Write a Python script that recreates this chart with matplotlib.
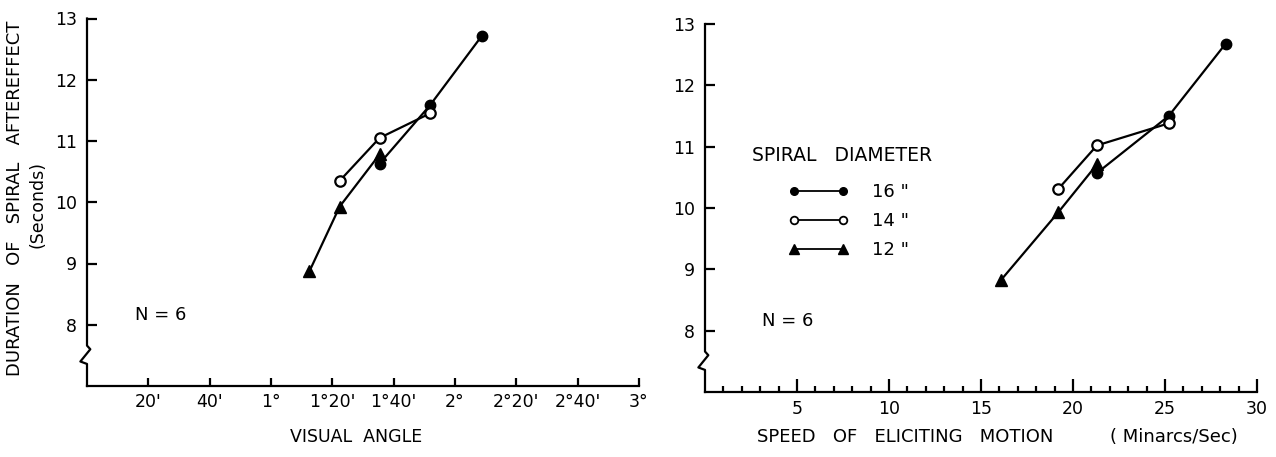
import matplotlib
matplotlib.use("Agg")
import matplotlib.pyplot as plt
from matplotlib.lines import Line2D

# left panel: visual angle (minutes of arc) vs duration (s)
angle_16 = [95.4, 111.8, 128.8]
dur_angle_16 = [10.63, 11.58, 12.72]
angle_14 = [82.4, 95.4, 111.8]
dur_angle_14 = [10.35, 11.05, 11.45]
angle_12 = [72.5, 82.4, 95.4]
dur_angle_12 = [8.87, 9.93, 10.78]

# right panel: speed (minarcs/sec) vs duration (s)
speed_16 = [21.3, 25.2, 28.3]
dur_speed_16 = [10.57, 11.50, 12.68]
speed_14 = [19.2, 21.3, 25.2]
dur_speed_14 = [10.31, 11.02, 11.38]
speed_12 = [16.1, 19.2, 21.3]
dur_speed_12 = [8.83, 9.93, 10.71]

angle_ticks = [20, 40, 60, 80, 100, 120, 140, 160, 180]
angle_labels = ["20'", "40'", "1°", "1°20'", "1°40'", "2°", "2°20'", "2°40'", "3°"]
speed_ticks = [5, 10, 15, 20, 25, 30]
dur_ticks = [8, 9, 10, 11, 12, 13]
legend_labels = ['16 "', '14 "', '12 "']

plt.rcParams['font.family'] = ['DejaVu Sans']
W, H = 1276, 457
fig = plt.figure(figsize=(W / 100, H / 100), dpi=100)

ax1 = fig.add_axes([87 / W, 1 - 386 / H, (639 - 87) / W, (386 - 18.5) / H])
ax2 = fig.add_axes([705 / W, 1 - 392 / H, (1257 - 705) / W, (392 - 24) / H])

lw = 1.6


def draw_series(ax, xs, ys):
    ax.plot(xs[0], ys[0], color="black", lw=lw, marker="o", ms=7.5,
            mfc="black", mec="black", zorder=3)
    ax.plot(xs[1], ys[1], color="black", lw=lw, marker="o", ms=7.5,
            mfc="white", mec="black", mew=1.6, zorder=4)
    ax.plot(xs[2], ys[2], color="black", lw=lw, marker="^", ms=8,
            mfc="black", mec="black", zorder=3)


draw_series(ax1, [angle_16, angle_14, angle_12],
            [dur_angle_16, dur_angle_14, dur_angle_12])
draw_series(ax2, [speed_16, speed_14, speed_12],
            [dur_speed_16, dur_speed_14, dur_speed_12])

for ax in (ax1, ax2):
    ax.set_ylim(7, 13)
    ax.set_yticks(dur_ticks)
    ax.set_yticklabels([str(t) for t in dur_ticks], fontsize=12.5)
    ax.spines["top"].set_visible(False)
    ax.spines["right"].set_visible(False)
    ax.spines["left"].set_visible(False)
    ax.spines["bottom"].set_linewidth(lw)
    ax.tick_params(axis="y", direction="in", length=7, width=lw, pad=7)
    # y axis with break mark near the bottom
    tr = ax.get_yaxis_transform()
    ax.plot([0, 0, 0.006, -0.012, 0, 0], [13, 7.66, 7.6, 7.4, 7.36, 7.0],
            color="black", lw=lw, transform=tr, clip_on=False, zorder=5)

ax1.set_xlim(0, 180)
ax1.set_xticks(angle_ticks)
ax1.set_xticklabels(angle_labels, fontsize=12.5)
ax1.tick_params(axis="x", direction="in", length=6, width=lw, pad=5)

ax2.set_xlim(0, 30)
ax2.set_xticks(speed_ticks)
ax2.set_xticklabels([str(t) for t in speed_ticks], fontsize=12.5)
ax2.set_xticks(range(1, 31), minor=True)
ax2.tick_params(axis="x", which="major", direction="in", length=9.5, width=lw, pad=6)
ax2.tick_params(axis="x", which="minor", direction="in", length=4.5, width=lw)

ax1.text(15.5, 8.16, "N = 6", fontsize=13, va="center", ha="left")
ax2.text(3.1, 8.15, "N = 6", fontsize=13, va="center", ha="left")

# axis labels
fig.text(15 / W, 1 - 198 / H, "DURATION   OF   SPIRAL   AFTEREFFECT", rotation=90,
         fontsize=13, ha="center", va="center")
fig.text(38 / W, 1 - 205 / H, "(Seconds)", rotation=90,
         fontsize=12.5, ha="center", va="center")
fig.text(356 / W, 1 - 437 / H, "VISUAL  ANGLE", fontsize=12.5, ha="center", va="center")
fig.text(757 / W, 1 - 437 / H, "SPEED   OF   ELICITING   MOTION", fontsize=13,
         ha="left", va="center")
fig.text(1110 / W, 1 - 437 / H, "( Minarcs/Sec)", fontsize=13, ha="left", va="center")

# legend
ax2.text(0.085, 0.644, "SPIRAL   DIAMETER", transform=ax2.transAxes,
         fontsize=13.5, ha="left", va="center")
handles = [
    Line2D([], [], color="black", lw=1.3, marker="o", ms=5.5, mfc="black", mec="black"),
    Line2D([], [], color="black", lw=1.3, marker="o", ms=5.5, mfc="white", mec="black", mew=1.3),
    Line2D([], [], color="black", lw=1.3, marker="^", ms=6.5, mfc="black", mec="black"),
]
ax2.legend(handles, legend_labels, loc="upper left", bbox_to_anchor=(0.152, 0.567),
           frameon=False, numpoints=2, handlelength=3.3, handletextpad=1.3,
           labelspacing=0.6, borderpad=0, borderaxespad=0, fontsize=13)

fig.savefig("out.png", dpi=100)
